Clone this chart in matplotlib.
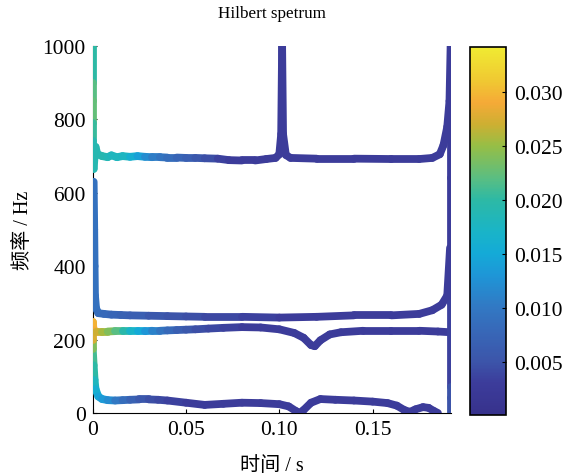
import numpy as np
import matplotlib
matplotlib.use('Agg')
import matplotlib.pyplot as plt
from matplotlib.collections import LineCollection
from matplotlib.colors import LinearSegmentedColormap, Normalize
from matplotlib.cm import ScalarMappable
from matplotlib.patches import Rectangle

plt.rcParams['font.family'] = ['Liberation Serif', 'Noto Sans CJK SC']

# 参考图 colorbar 上读的颜色 (parula 类)
amp_min, amp_max = 0.0001, 0.0341
cmap_vals = [0.0001, 0.003, 0.005, 0.008, 0.010, 0.013, 0.015, 0.017, 0.020,
             0.022, 0.025, 0.027, 0.029, 0.031, 0.0341]
cmap_rgb = [(55, 50, 140), (60, 60, 155), (60, 85, 170), (55, 105, 185), (50, 120, 195),
            (30, 150, 215), (20, 170, 215), (25, 180, 200), (45, 185, 165),
            (90, 190, 130), (150, 190, 70), (205, 175, 50), (245, 170, 55),
            (240, 200, 50), (240, 235, 50)]
parula = LinearSegmentedColormap.from_list(
    'parula_like',
    [((v - amp_min) / (amp_max - amp_min), tuple(c / 255 for c in rgb))
     for v, rgb in zip(cmap_vals, cmap_rgb)])

# IMF1 (~700 Hz)
imf1_t = [0.0, 0.0, 0.0, 0.0, 0.0, 0.0, 0.0005, 0.001, 0.0015, 0.0025, 0.005, 0.008,
          0.010, 0.013, 0.016, 0.020, 0.024, 0.028, 0.032, 0.036, 0.040, 0.045, 0.050,
          0.055, 0.060, 0.067, 0.073, 0.080, 0.087, 0.093, 0.098, 0.100, 0.1010, 0.1015,
          0.1020, 0.1035, 0.106, 0.120, 0.140, 0.160, 0.175, 0.182, 0.186, 0.188, 0.190,
          0.1912, 0.1918]
imf1_f = [1000, 900, 850, 790, 740, 700, 665, 700, 725, 705, 700, 697,
          702, 697, 700, 698, 700, 698, 697, 697, 696, 696, 695,
          695, 694, 693, 689, 688, 688, 692, 695, 705, 760, 1000,
          760, 703, 695, 693, 693, 692, 692, 695, 705, 730, 780,
          850, 1000]
imf1_a = [0.019, 0.021, 0.023, 0.022, 0.019, 0.019, 0.019, 0.019, 0.019, 0.019, 0.019, 0.019,
          0.018, 0.018, 0.018, 0.017, 0.015, 0.013, 0.011, 0.010, 0.009, 0.008, 0.007,
          0.006, 0.005, 0.004, 0.003, 0.003, 0.003, 0.003, 0.003, 0.003, 0.003, 0.003,
          0.003, 0.003, 0.003, 0.003, 0.003, 0.003, 0.003, 0.003, 0.003, 0.003, 0.003,
          0.003, 0.003]

# IMF2 (~265 Hz)
imf2_t = [0.0005, 0.0008, 0.001, 0.0012, 0.0018, 0.003, 0.006, 0.010, 0.015, 0.020,
          0.030, 0.040, 0.050, 0.060, 0.080, 0.100, 0.120, 0.140, 0.160, 0.175,
          0.182, 0.187, 0.190, 0.1915]
imf2_f = [630, 500, 400, 320, 285, 272, 270, 268, 267, 266,
          265, 264, 263, 262, 262, 260, 262, 266, 266, 270,
          280, 295, 320, 450]
imf2_a = [0.009, 0.009, 0.009, 0.009, 0.009, 0.009, 0.008, 0.008, 0.007, 0.007,
          0.006, 0.005, 0.005, 0.004, 0.004, 0.003, 0.003, 0.003, 0.003, 0.003,
          0.003, 0.003, 0.003, 0.003]

# IMF3 (~225 Hz)
imf3_t = [0.0, 0.0, 0.0, 0.0005, 0.002, 0.005, 0.008, 0.012, 0.016, 0.020, 0.024,
          0.028, 0.032, 0.036, 0.040, 0.045, 0.050, 0.055, 0.062, 0.070, 0.080,
          0.090, 0.100, 0.108, 0.113, 0.117, 0.119, 0.122, 0.127, 0.133, 0.145,
          0.160, 0.175, 0.185, 0.1915]
imf3_f = [175, 200, 248, 225, 222, 222, 222, 223, 223, 223, 223,
          223, 224, 224, 225, 226, 227, 228, 230, 232, 234,
          233, 228, 218, 205, 185, 182, 198, 214, 220, 224,
          224, 224, 222, 220]
imf3_a = [0.022, 0.026, 0.029, 0.030, 0.028, 0.026, 0.025, 0.023, 0.021, 0.018, 0.016,
          0.014, 0.012, 0.010, 0.009, 0.007, 0.006, 0.005, 0.004, 0.004, 0.003,
          0.003, 0.003, 0.003, 0.003, 0.003, 0.003, 0.003, 0.003, 0.003, 0.003,
          0.003, 0.003, 0.003, 0.003]

# IMF4 (~30 Hz)
imf4_t = [0.0, 0.0005, 0.001, 0.0015, 0.003, 0.005, 0.008, 0.012, 0.016, 0.020,
          0.025, 0.030, 0.035, 0.040, 0.050, 0.060, 0.070, 0.080, 0.090, 0.100,
          0.105, 0.109, 0.111, 0.113, 0.117, 0.122, 0.130, 0.140, 0.150, 0.158,
          0.163, 0.167, 0.170, 0.173, 0.177, 0.180, 0.183, 0.185]
imf4_f = [175, 130, 90, 65, 45, 38, 35, 34, 35, 36,
          37, 37, 36, 34, 28, 22, 25, 28, 27, 24,
          18, 5, 0, 8, 28, 38, 36, 34, 31, 27,
          20, 8, 3, 10, 16, 14, 5, 0]
imf4_a = [0.021, 0.021, 0.019, 0.017, 0.015, 0.014, 0.013, 0.011, 0.009, 0.008,
          0.006, 0.005, 0.004, 0.004, 0.003, 0.003, 0.003, 0.003, 0.003, 0.003,
          0.003, 0.003, 0.003, 0.003, 0.003, 0.003, 0.003, 0.003, 0.003, 0.003,
          0.003, 0.003, 0.003, 0.003, 0.003, 0.003, 0.003, 0.003]

# 信号末端
end_t = [0.1922, 0.1922, 0.1922, 0.1922, 0.1922, 0.1922]
end_f = [1000, 640, 300, 70, 40, 0]
end_a = [0.003, 0.003, 0.003, 0.004, 0.006, 0.004]

cbar_ticks = [0.005, 0.010, 0.015, 0.020, 0.025, 0.030]
norm = Normalize(amp_min, amp_max)

fig = plt.figure(figsize=(5.63, 4.77), dpi=100)
ax = fig.add_axes([0.1647, 0.1321, 0.637, 0.7694])
clip = Rectangle((-0.03, -0.03), 1.06, 1.03, transform=ax.transAxes,
                 facecolor='none', edgecolor='none')


def draw_curve(t, f, a):
    pts = np.column_stack([t, f])
    segs = np.stack([pts[:-1], pts[1:]], axis=1)
    a = np.asarray(a)
    lc = LineCollection(segs, cmap=parula, norm=norm, linewidths=5.6,
                        capstyle='round', zorder=3)
    lc.set_array((a[:-1] + a[1:]) / 2)
    lc.set_clip_path(clip)
    ax.add_collection(lc)


for t, f, a in [(imf4_t, imf4_f, imf4_a), (imf3_t, imf3_f, imf3_a),
                (imf2_t, imf2_f, imf2_a), (imf1_t, imf1_f, imf1_a),
                (end_t, end_f, end_a)]:
    draw_curve(t, f, a)

ax.set_xlim(0, 0.1922)
ax.set_ylim(0, 1000)
ax.set_xticks([0, 0.05, 0.10, 0.15])
ax.set_xticklabels(['0', '0.05', '0.10', '0.15'])
ax.set_yticks([0, 200, 400, 600, 800, 1000])
for s in ['top', 'right']:
    ax.spines[s].set_visible(False)
ax.tick_params(direction='in', length=3, width=0.8, labelsize=15.5, pad=5)
ax.set_title('Hilbert spetrum', fontsize=12.3, pad=21)
ax.set_xlabel('时间 / s', fontsize=14.5, labelpad=12)
ax.set_ylabel('频率 / Hz', fontsize=14.5, labelpad=7)

cax = fig.add_axes([0.835, 0.128, 0.064, 0.771])
cb = fig.colorbar(ScalarMappable(norm=norm, cmap=parula), cax=cax, ticks=cbar_ticks)
cb.ax.set_yticklabels(['%.3f' % v for v in cbar_ticks])
cb.ax.tick_params(direction='in', length=3, width=0.8, labelsize=15.5, pad=6)
cb.outline.set_linewidth(1.2)

fig.savefig('out.png', dpi=100)
